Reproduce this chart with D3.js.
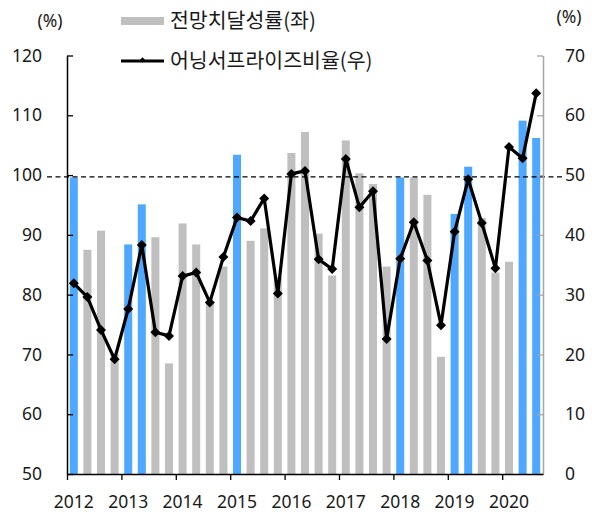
<!DOCTYPE html>
<html>
<head>
<meta charset="utf-8">
<script src="https://cdn.jsdelivr.net/npm/d3@7"></script>
<style>
  html, body { margin: 0; padding: 0; background: #fff; }
  svg { display: block; }
  .num { font-family: "Noto Sans", "Open Sans", sans-serif; font-size: 17.5px; fill: #1a1a1a; }
  .kr { font-family: "Noto Sans CJK KR", sans-serif; font-size: 20.5px; fill: #1a1a1a; }
</style>
</head>
<body>
<svg id="chart" width="603" height="518"></svg>
<script>
// ---- data ----
const quarters = [
  "2012Q1","2012Q2","2012Q3","2012Q4",
  "2013Q1","2013Q2","2013Q3","2013Q4",
  "2014Q1","2014Q2","2014Q3","2014Q4",
  "2015Q1","2015Q2","2015Q3","2015Q4",
  "2016Q1","2016Q2","2016Q3","2016Q4",
  "2017Q1","2017Q2","2017Q3","2017Q4",
  "2018Q1","2018Q2","2018Q3","2018Q4",
  "2019Q1","2019Q2","2019Q3","2019Q4",
  "2020Q1","2020Q2","2020Q3"
];
// 전망치달성률(좌), %
const achievement = [
  99.6, 87.5, 90.7, 70.0,
  88.4, 95.1, 89.6, 68.5,
  91.9, 88.4, 78.5, 84.7,
  103.4, 89.0, 91.1, 82.9,
  103.7, 107.2, 90.2, 83.2,
  105.8, 100.3, 98.5, 84.7,
  99.6, 99.6, 96.7, 69.6,
  93.5, 101.4, 92.8, 83.7,
  85.5, 109.1, 106.2
];
// highlighted (blue) quarters
const highlighted = ["2012Q1","2013Q1","2013Q2","2015Q1","2018Q1","2019Q1","2019Q2","2020Q2","2020Q3"];
// 어닝서프라이즈비율(우), %
const surpriseRatio = [
  31.9, 29.6, 24.1, 19.2,
  27.6, 38.3, 23.7, 23.1,
  33.1, 33.7, 28.7, 36.3,
  42.9, 42.3, 46.1, 30.2,
  50.2, 50.7, 35.9, 34.3,
  52.7, 44.6, 47.3, 22.6,
  36.0, 42.1, 35.7, 24.9,
  40.5, 49.3, 42.0, 34.4,
  54.7, 52.8, 63.7
];
const yearLabels = ["2012","2013","2014","2015","2016","2017","2018","2019","2020"];
const leftTicks = [50, 60, 70, 80, 90, 100, 110, 120];
const rightTicks = [0, 10, 20, 30, 40, 50, 60, 70];
const referenceLevel = 99.7; // dashed line, left axis
const legendLabels = ["전망치달성률(좌)", "어닝서프라이즈비율(우)"];

// ---- layout ----
const svg = d3.select("#chart");
const plotL = 67, plotR = 543, plotT = 55.5, plotB = 474;
const colGray = "#BFBFBF", colBlue = "#4FA8FF";

const x = d3.scaleBand().domain(quarters).range([plotL, plotR])
  .paddingInner(0.41).paddingOuter(0.205);
const xIdx = d3.scaleLinear().domain([0, quarters.length]).range([plotL, plotR]);
const yL = d3.scaleLinear().domain([50, 120]).range([plotB, plotT]);
const yR = d3.scaleLinear().domain([0, 70]).range([plotB, plotT]);

// bars
const data = quarters.map((q, i) => ({ q, a: achievement[i], s: surpriseRatio[i] }));
svg.append("g").selectAll("rect").data(data).join("rect")
  .attr("x", d => x(d.q))
  .attr("width", x.bandwidth())
  .attr("y", d => yL(d.a))
  .attr("height", d => yL(50) - yL(d.a))
  .attr("fill", d => highlighted.includes(d.q) ? colBlue : colGray);

// dashed reference line
svg.append("line")
  .attr("x1", 47).attr("x2", 562)
  .attr("y1", yL(referenceLevel)).attr("y2", yL(referenceLevel))
  .attr("stroke", "#000").attr("stroke-width", 1.4)
  .attr("stroke-dasharray", "5,3.5");

// left axis
const gL = svg.append("g").attr("transform", `translate(${plotL},0)`)
  .call(d3.axisLeft(yL).tickValues(leftTicks).tickSizeInner(-6).tickSizeOuter(0).tickPadding(25));
gL.select(".domain").attr("stroke", "#000").attr("stroke-width", 1.5);
gL.selectAll(".tick line").attr("stroke", "#000").attr("stroke-width", 1.3);
gL.selectAll(".tick text").attr("class", "num").attr("font-family", null).attr("font-size", null);

// right axis
const gR = svg.append("g").attr("transform", `translate(${plotR},0)`)
  .call(d3.axisRight(yR).tickValues(rightTicks).tickSizeInner(-6).tickSizeOuter(0).tickPadding(22));
gR.select(".domain").attr("stroke", "#A6A6A6").attr("stroke-width", 1.5);
gR.selectAll(".tick line").attr("stroke", "#A6A6A6").attr("stroke-width", 1.3);
gR.selectAll(".tick text").attr("class", "num").attr("font-family", null).attr("font-size", null);

// bottom axis: ticks at year boundaries
const yearStarts = quarters.filter(q => q.endsWith("Q1"));
const gB = svg.append("g").attr("transform", `translate(0,${plotB})`)
  .call(d3.axisBottom(xIdx).tickValues(yearStarts.map(q => quarters.indexOf(q)))
    .tickFormat("").tickSizeInner(6).tickSizeOuter(0));
gB.select(".domain").attr("stroke", "#000").attr("stroke-width", 1.5);
gB.selectAll(".tick line").attr("stroke", "#000").attr("stroke-width", 1.3);
// year labels under the Q1 bars
const gBL = svg.append("g").attr("transform", `translate(0,${plotB})`)
  .call(d3.axisBottom(x).tickValues(yearStarts)
    .tickFormat((q, i) => yearLabels[i]).tickSize(0).tickPadding(22));
gBL.select(".domain").remove();
gBL.selectAll(".tick text").attr("class", "num").attr("font-family", null).attr("font-size", null);

// line
const line = d3.line().x(d => x(d.q) + x.bandwidth() / 2).y(d => yR(d.s));
svg.append("path").datum(data)
  .attr("d", line).attr("fill", "none")
  .attr("stroke", "#000").attr("stroke-width", 3.2).attr("stroke-linejoin", "round");
const diamond = d3.symbol(d3.symbolSquare, 50);
svg.append("g").selectAll("path").data(data).join("path")
  .attr("d", diamond)
  .attr("transform", d => `translate(${x(d.q) + x.bandwidth() / 2},${yR(d.s)}) rotate(45)`)
  .attr("fill", "#000");

// unit labels
svg.append("text").attr("class", "num").attr("x", 50).attr("y", 21)
  .attr("text-anchor", "middle").attr("dy", "0.35em").text("(%)");
svg.append("text").attr("class", "num").attr("x", 569).attr("y", 17)
  .attr("text-anchor", "middle").attr("dy", "0.35em").text("(%)");

// legend
const lg = svg.append("g");
lg.append("rect").attr("x", 121).attr("y", 17).attr("width", 43).attr("height", 8).attr("fill", colGray);
lg.append("text").attr("class", "kr").attr("x", 170).attr("y", 21).attr("dy", "0.36em").text(legendLabels[0]);
lg.append("line").attr("x1", 121).attr("x2", 164).attr("y1", 61).attr("y2", 61)
  .attr("stroke", "#000").attr("stroke-width", 3);
lg.append("path").attr("d", d3.symbol(d3.symbolSquare, 14))
  .attr("transform", "translate(142.5,60) rotate(45)").attr("fill", "#000");
lg.append("text").attr("class", "kr").attr("x", 170).attr("y", 61).attr("dy", "0.36em").text(legendLabels[1]);
</script>
</body>
</html>
